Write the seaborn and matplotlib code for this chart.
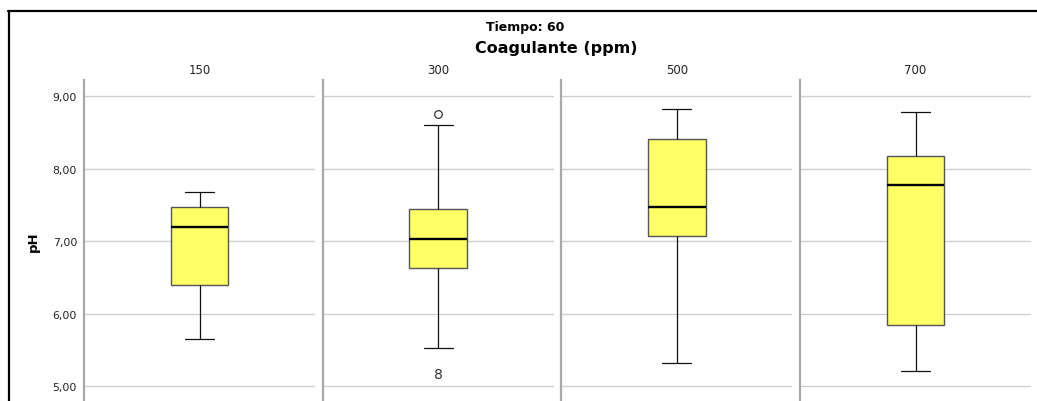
import numpy as np
import matplotlib
matplotlib.use("Agg")
import matplotlib.pyplot as plt
from matplotlib.lines import Line2D
import seaborn as sns

# resumen de cinco números por grupo
coagulante = ["150", "300", "500", "700"]
bigote_inf = [5.65, 5.52, 5.32, 5.20]
q1 = [6.39, 6.63, 7.07, 5.84]
mediana = [7.19, 7.03, 7.47, 7.77]
q3 = [7.47, 7.44, 8.41, 8.17]
bigote_sup = [7.67, 8.60, 8.82, 8.78]

# valores atípicos y etiqueta de caso
atipico_grupo = ["300"]
atipico_valor = [8.75]
caso_grupo = ["300"]
caso_valor = [5.17]
caso_texto = ["8"]

yticks = [5, 6, 7, 8, 9]
ytick_labels = ["5,00", "6,00", "7,00", "8,00", "9,00"]

sns.set_style("white")
plt.rcParams["font.family"] = ["DejaVu Sans"]

W, H = 1037, 402
fig = plt.figure(figsize=(W / 100, H / 100), dpi=100)

amarillo = "#FFFF66"
gris_rejilla = "#cfcfcf"
gris_eje = "#a9a9a9"

for i, g in enumerate(coagulante):
    left = (84 + 238.7 * i) / W
    ax = fig.add_axes([left, 0, 231 / W, 321 / H])
    # los cinco valores reproducen exactamente la caja y los bigotes
    vals = [bigote_inf[i], q1[i], mediana[i], q3[i], bigote_sup[i]]
    sns.boxplot(y=vals, ax=ax, width=0.25, whis=np.inf, color=amarillo,
                saturation=1, linecolor="#222222", linewidth=0.8,
                boxprops={"edgecolor": "#555555", "linewidth": 1.0},
                medianprops={"color": "black", "linewidth": 1.7},
                whiskerprops={"color": "#111111", "linewidth": 0.9},
                capprops={"color": "#111111", "linewidth": 0.9},
                zorder=3)
    for gg, v in zip(atipico_grupo, atipico_valor):
        if gg == g:
            ax.plot([0], [v], marker="o", ms=5.5, mfc="none", mec="#333333",
                    mew=0.9, ls="none", zorder=4)
    for gg, v, t in zip(caso_grupo, caso_valor, caso_texto):
        if gg == g:
            ax.text(0, v, t, ha="center", va="center", fontsize=10,
                    color="#333333")
    ax.set_xlim(-0.5, 0.5)
    ax.set_ylim(4.793, 9.221)
    ax.set_xticks([])
    ax.set_yticks(yticks)
    ax.yaxis.grid(True, color=gris_rejilla, linewidth=1.0)
    ax.set_axisbelow(True)
    for s in ["top", "right", "bottom"]:
        ax.spines[s].set_visible(False)
    ax.spines["left"].set_color(gris_eje)
    ax.spines["left"].set_linewidth(1.6)
    ax.tick_params(axis="y", length=0, pad=5)
    if i == 0:
        ax.set_yticklabels(ytick_labels, fontsize=7.8, color="#222222")
    else:
        ax.set_yticklabels([])
    ax.set_ylabel("")
    # título de faceta
    ax.text(0.5, 1.0 + 4 / 321, g, transform=ax.transAxes, ha="center",
            va="bottom", fontsize=8.5, color="#222222")

fig.text(33 / W, 1 - 242 / H, "pH", rotation=90, ha="center", va="center",
         fontsize=9.5, fontweight="bold", color="black")
fig.text(525 / W, 1 - 27 / H, "Tiempo: 60", ha="center", va="center",
         fontsize=9, fontweight="bold", color="black")
fig.text(556 / W, 1 - 48 / H, "Coagulante (ppm)", ha="center", va="center",
         fontsize=11.5, fontweight="bold", color="black")

# marco negro
fig.add_artist(Line2D([8.5 / W, 8.5 / W], [0, 1 - 12 / H], color="black", lw=1.6))
fig.add_artist(Line2D([8 / W, 1], [1 - 12 / H, 1 - 12 / H], color="black", lw=1.6))

fig.savefig("out.png", dpi=100)
